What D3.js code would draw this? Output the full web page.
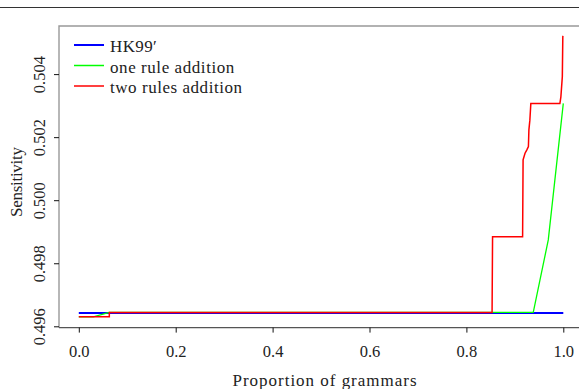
<!DOCTYPE html>
<html>
<head>
<meta charset="utf-8">
<script src="https://cdn.jsdelivr.net/npm/d3@7"></script>
<style>
  body { margin: 0; background: #fff; }
  text { font-family: "Liberation Serif", "DejaVu Serif", serif; fill: #222; }
</style>
</head>
<body>
<div id="chart"></div>
<script>

// data
const hkX = [0, 1.0];
const hkY = [0.49642, 0.49642];

const oneRuleX = [0, 0.030, 0.063, 0.938, 0.969, 1.0];
const oneRuleY = [0.49630, 0.49630, 0.49644, 0.49644, 0.49874, 0.50307];

const twoRulesX = [0, 0.063, 0.063, 0.853, 0.854, 0.916, 0.917, 0.921, 0.9245, 0.928, 0.929, 0.931, 0.933, 0.993, 0.995, 0.998, 0.999, 1.0];
const twoRulesY = [0.49630, 0.49630, 0.49644, 0.49644, 0.49884, 0.49884, 0.50128, 0.50149, 0.50159, 0.50170, 0.50223, 0.50254, 0.50307, 0.50307, 0.50328, 0.50392, 0.50519, 0.50521];

const seriesNames = ["HK99\u2032", "one rule addition", "two rules addition"];
const seriesColors = ["#0000ff", "#00ff00", "#ff0000"];
const seriesWidths = [2, 1.3, 1.5];

const xTicks = [0, 0.2, 0.4, 0.6, 0.8, 1.0];
const yTicks = [0.496, 0.498, 0.500, 0.502, 0.504];

const series = [
    hkX.map((x, i) => ({ x, y: hkY[i] })),
    oneRuleX.map((x, i) => ({ x, y: oneRuleY[i] })),
    twoRulesX.map((x, i) => ({ x, y: twoRulesY[i] })),
];

const dimensions = {
    width: 579,
    height: 389,
    box: { left: 59, right: 590, top: 26, bottom: 327.6 },
};

const svg = d3.select("#chart")
    .append("svg")
    .attr("width", dimensions.width)
    .attr("height", dimensions.height);

// scales
const xScale = d3.scaleLinear().domain([0, 1]).range([78.8, 563.3]);
const yScale = d3.scaleLinear().domain([0.496, 0.504]).range([326.3, 74.1]);

// page rule at top
svg.append("line")
    .attr("x1", 0).attr("x2", dimensions.width)
    .attr("y1", 7.5).attr("y2", 7.5)
    .attr("stroke", "#333").attr("stroke-width", 1);

// axes box
const b = dimensions.box;
svg.append("path")
    .attr("d", `M${b.right},${b.top}H${b.left}V${b.bottom}`)
    .attr("fill", "none")
    .attr("stroke", "#999")
    .attr("stroke-width", 1.4);
svg.append("line")
    .attr("x1", b.left).attr("x2", b.right)
    .attr("y1", b.bottom).attr("y2", b.bottom)
    .attr("stroke", "#555").attr("stroke-width", 1.2);

// x axis
const xAxis = svg.append("g")
    .attr("transform", `translate(0,${b.bottom})`)
    .call(d3.axisBottom(xScale).tickValues(xTicks).tickFormat(d3.format(".1f")).tickSize(5));
xAxis.select(".domain").remove();
xAxis.selectAll("line").attr("stroke", "#111");
xAxis.selectAll("text")
    .attr("y", 29.5)
    .attr("dy", null)
    .style("font-size", "16.5px")
    .style("font-family", "Liberation Serif")
    .attr("fill", "#222");

// y axis
const yAxis = svg.append("g")
    .attr("transform", `translate(${b.left},0)`)
    .call(d3.axisLeft(yScale).tickValues(yTicks).tickFormat(d3.format(".3f")).tickSize(5));
yAxis.select(".domain").remove();
yAxis.selectAll("line").attr("stroke", "#111");
yAxis.selectAll("text")
    .attr("x", null)
    .attr("dy", null)
    .attr("transform", "translate(-14,0) rotate(-90)")
    .attr("text-anchor", "middle")
    .style("font-size", "16.5px")
    .style("font-family", "Liberation Serif")
    .attr("fill", "#222");

// axis titles
svg.append("text")
    .attr("x", 324.5)
    .attr("y", 386)
    .attr("text-anchor", "middle")
    .attr("textLength", 184)
    .attr("lengthAdjust", "spacing")
    .style("font-size", "17px")
    .style("font-family", "Liberation Serif")
    .text("Proportion of grammars");

svg.append("text")
    .attr("transform", "translate(22,182) rotate(-90)")
    .attr("text-anchor", "middle")
    .attr("textLength", 70)
    .attr("lengthAdjust", "spacing")
    .style("font-size", "17px")
    .style("font-family", "Liberation Serif")
    .text("Sensitivity");

// data lines
const line = d3.line()
    .x(d => xScale(d.x))
    .y(d => yScale(d.y));

svg.append("g")
    .selectAll("path")
    .data(series)
    .join("path")
    .attr("d", line)
    .attr("fill", "none")
    .attr("stroke", (d, i) => seriesColors[i])
    .attr("stroke-width", (d, i) => seriesWidths[i])
    .attr("stroke-linejoin", "miter");

// legend
const legendWidths = [46.7, 124.3, 132];
const legend = svg.append("g");
const legendRows = legend.selectAll("g")
    .data(seriesNames)
    .join("g")
    .attr("transform", (d, i) => `translate(74,${45 + i * 20.5})`);

legendRows.append("line")
    .attr("x1", 0).attr("x2", 30)
    .attr("stroke", (d, i) => seriesColors[i])
    .attr("stroke-width", (d, i) => i === 0 ? 2 : 1.5);

legendRows.append("text")
    .attr("x", 36)
    .attr("y", 7)
    .attr("textLength", (d, i) => legendWidths[i])
    .attr("lengthAdjust", "spacing")
    .style("font-size", "17px")
    .style("font-family", "Liberation Serif")
    .text(d => d);

</script>
</body>
</html>
